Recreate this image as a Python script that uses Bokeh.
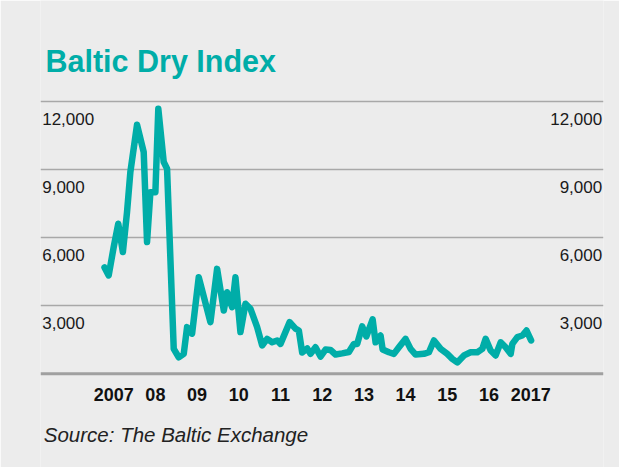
from bokeh.plotting import figure
from bokeh.models import Range1d, Grid, FixedTicker, Span, ColumnDataSource
from bokeh.core.properties import value
from bokeh.embed import file_html
from bokeh.resources import INLINE

# ---- data ----
years = [2006.78, 2006.88, 2007.00, 2007.11, 2007.22, 2007.32, 2007.40, 2007.56, 2007.72, 2007.80,
         2007.88, 2008.00, 2008.07, 2008.20, 2008.28, 2008.44, 2008.56, 2008.68, 2008.76, 2008.88,
         2009.04, 2009.32, 2009.48, 2009.64, 2009.72, 2009.84, 2009.92, 2010.04, 2010.16, 2010.28,
         2010.44, 2010.56, 2010.68, 2010.80, 2010.92, 2011.00, 2011.22, 2011.36, 2011.44, 2011.52,
         2011.64, 2011.72, 2011.84, 2011.96, 2012.08, 2012.20, 2012.32, 2012.48, 2012.64, 2012.76,
         2012.84, 2012.96, 2013.06, 2013.21, 2013.28, 2013.40, 2013.45, 2013.60, 2013.72, 2013.84,
         2014.00, 2014.12, 2014.24, 2014.44, 2014.56, 2014.68, 2014.84, 2015.00, 2015.12, 2015.24,
         2015.40, 2015.56, 2015.72, 2015.84, 2015.92, 2016.04, 2016.16, 2016.28, 2016.40, 2016.52,
         2016.56, 2016.68, 2016.80, 2016.90, 2017.01]
bdi = [4690, 4340, 5590, 6620, 5370, 7130, 8900, 10990, 9780, 5810,
       8010, 8010, 11690, 9340, 9050, 1100, 730, 880, 2060, 1770,
       4260, 2280, 4630, 2790, 3600, 2940, 4260, 1840, 3090, 2870,
       2060, 1250, 1540, 1390, 1470, 1320, 2280, 1990, 1910, 940,
       1120, 880, 1170, 760, 1070, 1050, 850, 900, 960, 1320,
       1320, 2090, 1650, 2400, 1390, 1690, 1070, 950, 880, 1170,
       1540, 1100, 850, 880, 950, 1470, 1100, 880, 660, 500,
       810, 950, 950, 1100, 1540, 1030, 810, 1390, 1170, 880,
       1320, 1620, 1690, 1910, 1470]
tick_years = [2007, 2008, 2009, 2010, 2011, 2012, 2013, 2014, 2015, 2016, 2017]
tick_labels = ["2007", "08", "09", "10", "11", "12", "13", "14", "15", "16", "2017"]
grid_values = [3000, 6000, 9000, 12000]
grid_labels = ["3,000", "6,000", "9,000", "12,000"]
title_text = "Baltic Dry Index"
source_text = "Source: The Baltic Exchange"

TEAL = "#00ADA8"
BG = "#ececec"
GRID = "#a8a8a8"
TXT = "#1a1a1a"
FONT = "Liberation Sans"

W, H = 619, 467
BL, BR = 40, 16
FRAME_W = W - BL - BR
X0, X1 = 2005.245, 2018.746
upp = 3000 / 68.0                     # value units per pixel
ZERO_PX = 373.3                       # pixel row of the zero line
Y0, Y1 = (ZERO_PX - H) * upp, ZERO_PX * upp
xupp = (X1 - X0) / FRAME_W

p = figure(width=W, height=H,
           x_range=Range1d(X0, X1), y_range=Range1d(Y0, Y1),
           x_axis_type=None, y_axis_type=None,
           output_backend="svg", toolbar_location=None,
           min_border_left=BL, min_border_right=BR, min_border_top=0, min_border_bottom=0,
           background_fill_color=BG, border_fill_color=BG, outline_line_color=None)

p.add_layout(Grid(dimension=1, ticker=FixedTicker(ticks=grid_values),
                  grid_line_color=GRID, grid_line_width=1.5))
p.add_layout(Span(location=0, dimension="width", line_color="#a0a0a0", line_width=3))

p.line(years, bdi, line_color=TEAL, line_width=6.5, line_join="round", line_cap="round")

# y tick labels (below each grid line, both sides)
lsrc = ColumnDataSource(dict(x=[X0] * len(grid_values), y=grid_values, t=grid_labels))
rsrc = ColumnDataSource(dict(x=[X1] * len(grid_values), y=grid_values, t=grid_labels))
p.text(x="x", y="y", text="t", source=lsrc, x_offset=1.7, y_offset=17.5,
       text_align="left", text_baseline="middle",
       text_font=value(FONT), text_font_size="17px", text_color=TXT)
p.text(x="x", y="y", text="t", source=rsrc, x_offset=-1.3, y_offset=17.5,
       text_align="right", text_baseline="middle",
       text_font=value(FONT), text_font_size="17px", text_color=TXT)

# x tick labels
xsrc = ColumnDataSource(dict(x=tick_years, y=[0] * len(tick_years), t=tick_labels))
p.text(x="x", y="y", text="t", source=xsrc, y_offset=20.5,
       text_align="center", text_baseline="middle",
       text_font=value(FONT), text_font_size="18px", text_font_style="bold", text_color="#111111")

# title and source
p.text(x=[X0 + 5 * xupp], y=[(ZERO_PX - 60.5) * upp], text=[title_text],
       text_align="left", text_baseline="middle",
       text_font=value(FONT), text_font_size="30.5px", text_font_style="bold", text_color=TEAL)
p.text(x=[X0 + 3.3 * xupp], y=[(ZERO_PX - 434) * upp], text=[source_text],
       text_align="left", text_baseline="middle",
       text_font=value(FONT), text_font_size="20.5px", text_font_style="italic", text_color="#222222")

open("out.html", "w").write(file_html(p, INLINE))
